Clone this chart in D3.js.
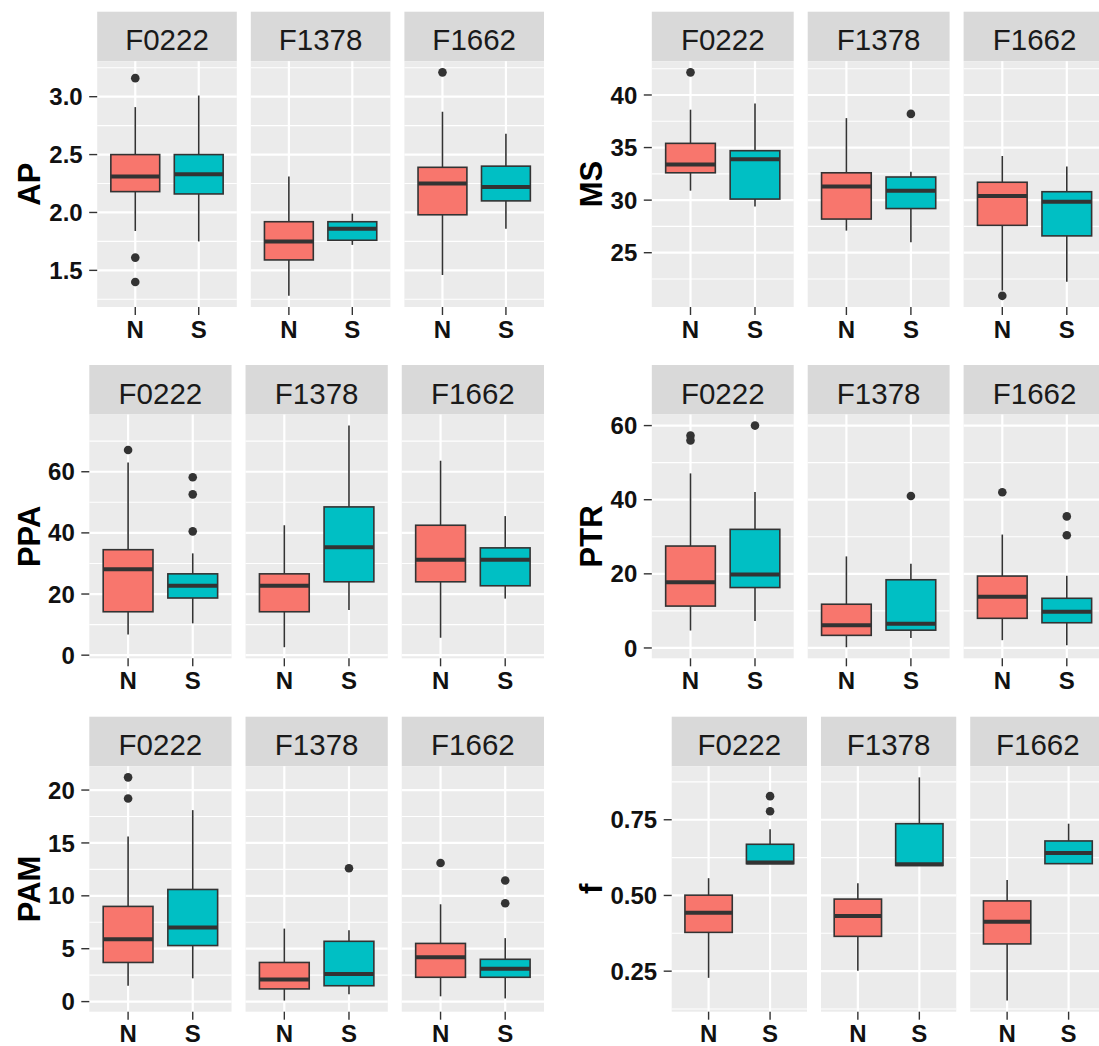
<!DOCTYPE html>
<html>
<head>
<meta charset="utf-8">
<title>Boxplots of traits by site and population</title>
<script src="https://cdn.jsdelivr.net/npm/d3@7"></script>
<style>
  body { margin: 0; background: #fff; }
  svg { display: block; }
</style>
</head>
<body>
<script>

// facets (sites) and groups on the x axis
var facets = ["F0222", "F1378", "F1662"];
var groups = ["N", "S"];
var groupColors = ["#F8766D", "#00BFC4"];

// box stats per facet: [lower whisker, Q1, median, Q3, upper whisker]
var apN = [[1.84, 2.18, 2.31, 2.50, 2.91], [1.28, 1.59, 1.75, 1.92, 2.31], [1.46, 1.98, 2.25, 2.39, 2.87]];
var apS = [[1.75, 2.16, 2.33, 2.50, 3.01], [1.72, 1.76, 1.86, 1.92, 1.99], [1.86, 2.10, 2.22, 2.40, 2.68]];
var apOutN = [[3.16, 1.61, 1.40], [], [3.21]];
var apOutS = [[], [], []];
var apTicks = ["1.5", "2.0", "2.5", "3.0"];

var msN = [[30.9, 32.6, 33.4, 35.4, 38.6], [27.1, 28.2, 31.3, 32.6, 37.8], [21.4, 27.6, 30.4, 31.7, 34.2]];
var msS = [[29.4, 30.1, 33.9, 34.7, 39.2], [26.0, 29.2, 30.9, 32.2, 32.7], [22.25, 26.6, 29.85, 30.8, 33.2]];
var msOutN = [[42.15], [], [20.9]];
var msOutS = [[], [38.2], []];
var msTicks = ["25", "30", "35", "40"];

var ppaN = [[6.8, 14.2, 28.1, 34.5, 63.0], [2.6, 14.2, 22.7, 26.6, 42.5], [5.7, 24.0, 31.2, 42.5, 63.6]];
var ppaS = [[10.4, 18.7, 22.7, 26.6, 33.3], [14.8, 24.0, 35.3, 48.5, 75.1], [18.5, 22.7, 31.2, 35.1, 45.5]];
var ppaOutN = [[67.1], [], []];
var ppaOutS = [[58.2, 52.6, 40.5], [], []];
var ppaTicks = ["0", "20", "40", "60"];

var ptrN = [[4.7, 11.3, 17.7, 27.5, 47.1], [0.2, 3.4, 6.1, 11.8, 24.7], [2.1, 8.0, 13.8, 19.4, 30.6]];
var ptrS = [[7.3, 16.3, 19.8, 32.0, 42.1], [2.7, 4.8, 6.5, 18.4, 22.7], [0.7, 6.8, 9.8, 13.4, 19.5]];
var ptrOutN = [[57.3, 56.0], [], [42.0]];
var ptrOutS = [[60.0], [41.0], [35.5, 30.4]];
var ptrTicks = ["0", "20", "40", "60"];

var pamN = [[1.5, 3.7, 5.9, 9.0, 15.6], [0.1, 1.2, 2.1, 3.7, 6.9], [0.5, 2.3, 4.2, 5.5, 9.2]];
var pamS = [[2.2, 5.3, 7.0, 10.6, 18.1], [0.7, 1.5, 2.6, 5.7, 6.75], [0.3, 2.3, 3.1, 4.0, 6.0]];
var pamOutN = [[21.2, 19.2], [], [13.1]];
var pamOutS = [[], [12.6], [11.45, 9.3]];
var pamTicks = ["0", "5", "10", "15", "20"];

var fN = [[0.228, 0.378, 0.443, 0.501, 0.557], [0.251, 0.365, 0.432, 0.488, 0.540], [0.153, 0.340, 0.413, 0.482, 0.551]];
var fS = [[0.605, 0.605, 0.609, 0.669, 0.719], [0.599, 0.599, 0.603, 0.737, 0.890], [0.605, 0.605, 0.640, 0.680, 0.737]];
var fOutN = [[], [], []];
var fOutS = [[0.828, 0.778], [], []];
var fTicks = ["0.25", "0.50", "0.75"];

// layout of the 3 x 2 grid
var W = 1099, H = 1046;
var rows = [
  { top: 11.7, bottom: 307 },
  { top: 365, bottom: 658.3 },
  { top: 716.7, bottom: 1011.7 }
];
var stripH = 49.5;
var colShift = 561.5;      // second column is the first one moved right
var col1Right = 544;
var facetGap = 14;

var panels = [
  { title: "AP",  row: 0, col: 0, left: 97.2,  n: apN,  s: apS,  outN: apOutN,  outS: apOutS,  ticks: apTicks },
  { title: "MS",  row: 0, col: 1, left: 651.8, n: msN,  s: msS,  outN: msOutN,  outS: msOutS,  ticks: msTicks },
  { title: "PPA", row: 1, col: 0, left: 89.3,  n: ppaN, s: ppaS, outN: ppaOutN, outS: ppaOutS, ticks: ppaTicks },
  { title: "PTR", row: 1, col: 1, left: 651.8, n: ptrN, s: ptrS, outN: ptrOutN, outS: ptrOutS, ticks: ptrTicks },
  { title: "PAM", row: 2, col: 0, left: 89.3,  n: pamN, s: pamS, outN: pamOutN, outS: pamOutS, ticks: pamTicks },
  { title: "f",   row: 2, col: 1, left: 671.7, n: fN,   s: fS,   outN: fOutN,   outS: fOutS,   ticks: fTicks }
];

var svg = d3.select("body").append("svg")
    .attr("width", W)
    .attr("height", H)
    .style("font-family", "'Liberation Sans', Arial, sans-serif");

panels.forEach(drawPanel);

function drawPanel(p) {
  var r = rows[p.row];
  var right = col1Right + p.col * colShift;
  var fw = (right - p.left - 2 * facetGap) / 3;
  var plotTop = r.top + stripH;
  var g = svg.append("g");

  // y range like ggplot: data range plus 5% each side
  var vals = [];
  [p.n, p.s].forEach(function (a) { a.forEach(function (b) { vals = vals.concat(b); }); });
  [p.outN, p.outS].forEach(function (a) { a.forEach(function (b) { vals = vals.concat(b); }); });
  var lo = d3.min(vals), hi = d3.max(vals), pad = (hi - lo) * 0.05;
  var y = d3.scaleLinear().domain([lo - pad, hi + pad]).range([r.bottom, plotTop]);

  var major = p.ticks.map(Number);
  var step = major[1] - major[0];
  var minor = [major[0] - step / 2];
  major.forEach(function (t) { minor.push(t + step / 2); });
  minor = minor.filter(function (m) { return m >= y.domain()[0] && m <= y.domain()[1]; });

  facets.forEach(function (fname, i) {
    var fx = p.left + i * (fw + facetGap);
    var x = d3.scalePoint().domain(groups).range([fx, fx + fw]).padding(0.6);
    var bw = x.step() * 0.77;
    var fg = g.append("g");

    // strip
    fg.append("rect").attr("x", fx).attr("y", r.top).attr("width", fw).attr("height", stripH)
      .attr("fill", "#D9D9D9");
    fg.append("text").attr("x", fx + fw / 2).attr("y", r.top + 38.7)
      .attr("text-anchor", "middle").attr("font-size", 29.5).attr("fill", "#1A1A1A")
      .text(fname);

    // panel background and grid
    fg.append("rect").attr("x", fx).attr("y", plotTop).attr("width", fw).attr("height", r.bottom - plotTop)
      .attr("fill", "#EBEBEB");
    fg.selectAll("line.minor").data(minor).enter().append("line")
      .attr("x1", fx).attr("x2", fx + fw)
      .attr("y1", function (d) { return y(d); }).attr("y2", function (d) { return y(d); })
      .attr("stroke", "#fff").attr("stroke-width", 1.1);
    fg.selectAll("line.major").data(major).enter().append("line")
      .attr("x1", fx).attr("x2", fx + fw)
      .attr("y1", function (d) { return y(d); }).attr("y2", function (d) { return y(d); })
      .attr("stroke", "#fff").attr("stroke-width", 2.2);
    fg.selectAll("line.vgrid").data(groups).enter().append("line")
      .attr("x1", function (d) { return x(d); }).attr("x2", function (d) { return x(d); })
      .attr("y1", plotTop).attr("y2", r.bottom)
      .attr("stroke", "#fff").attr("stroke-width", 2.2);

    // boxes
    var boxes = [
      { grp: "N", st: p.n[i], out: p.outN[i], fill: groupColors[0] },
      { grp: "S", st: p.s[i], out: p.outS[i], fill: groupColors[1] }
    ];
    boxes.forEach(function (b) {
      var cx = x(b.grp), st = b.st;
      fg.append("line").attr("x1", cx).attr("x2", cx).attr("y1", y(st[0])).attr("y2", y(st[1]))
        .attr("stroke", "#333").attr("stroke-width", 1.6);
      fg.append("line").attr("x1", cx).attr("x2", cx).attr("y1", y(st[3])).attr("y2", y(st[4]))
        .attr("stroke", "#333").attr("stroke-width", 1.6);
      fg.append("rect").attr("x", cx - bw / 2).attr("width", bw)
        .attr("y", y(st[3])).attr("height", y(st[1]) - y(st[3]))
        .attr("fill", b.fill).attr("stroke", "#333").attr("stroke-width", 1.6);
      fg.append("line").attr("x1", cx - bw / 2).attr("x2", cx + bw / 2)
        .attr("y1", y(st[2])).attr("y2", y(st[2]))
        .attr("stroke", "#333").attr("stroke-width", 4);
      fg.selectAll(null).data(b.out).enter().append("circle")
        .attr("cx", cx).attr("cy", function (d) { return y(d); }).attr("r", 4.3)
        .attr("fill", "#333");
    });

    // x axis ticks and labels
    fg.selectAll("line.xt").data(groups).enter().append("line")
      .attr("x1", function (d) { return x(d); }).attr("x2", function (d) { return x(d); })
      .attr("y1", r.bottom).attr("y2", r.bottom + 8)
      .attr("stroke", "#333").attr("stroke-width", 1.4);
    fg.selectAll("text.xl").data(groups).enter().append("text")
      .attr("x", function (d) { return x(d); }).attr("y", r.bottom + 30.5)
      .attr("text-anchor", "middle").attr("font-size", 24).attr("font-weight", "bold")
      .attr("fill", "#111").text(function (d) { return d; });
  });

  // y axis ticks and labels
  g.selectAll("line.yt").data(major).enter().append("line")
    .attr("x1", p.left - 8).attr("x2", p.left)
    .attr("y1", function (d) { return y(d); }).attr("y2", function (d) { return y(d); })
    .attr("stroke", "#333").attr("stroke-width", 1.4);
  g.selectAll("text.yl").data(p.ticks).enter().append("text")
    .attr("x", p.left - 14.5).attr("y", function (d) { return y(+d) + 8.6; })
    .attr("text-anchor", "end").attr("font-size", 24).attr("font-weight", "bold")
    .attr("fill", "#111").text(function (d) { return d; });

  // axis title
  var tx = 40.4 + p.col * colShift, ty = (plotTop + r.bottom) / 2;
  g.append("text").attr("transform", "translate(" + tx + "," + ty + ") rotate(-90)")
    .attr("text-anchor", "middle").attr("font-size", 31).attr("font-weight", "bold")
    .attr("fill", "#000").text(p.title);
}

</script>
</body>
</html>
